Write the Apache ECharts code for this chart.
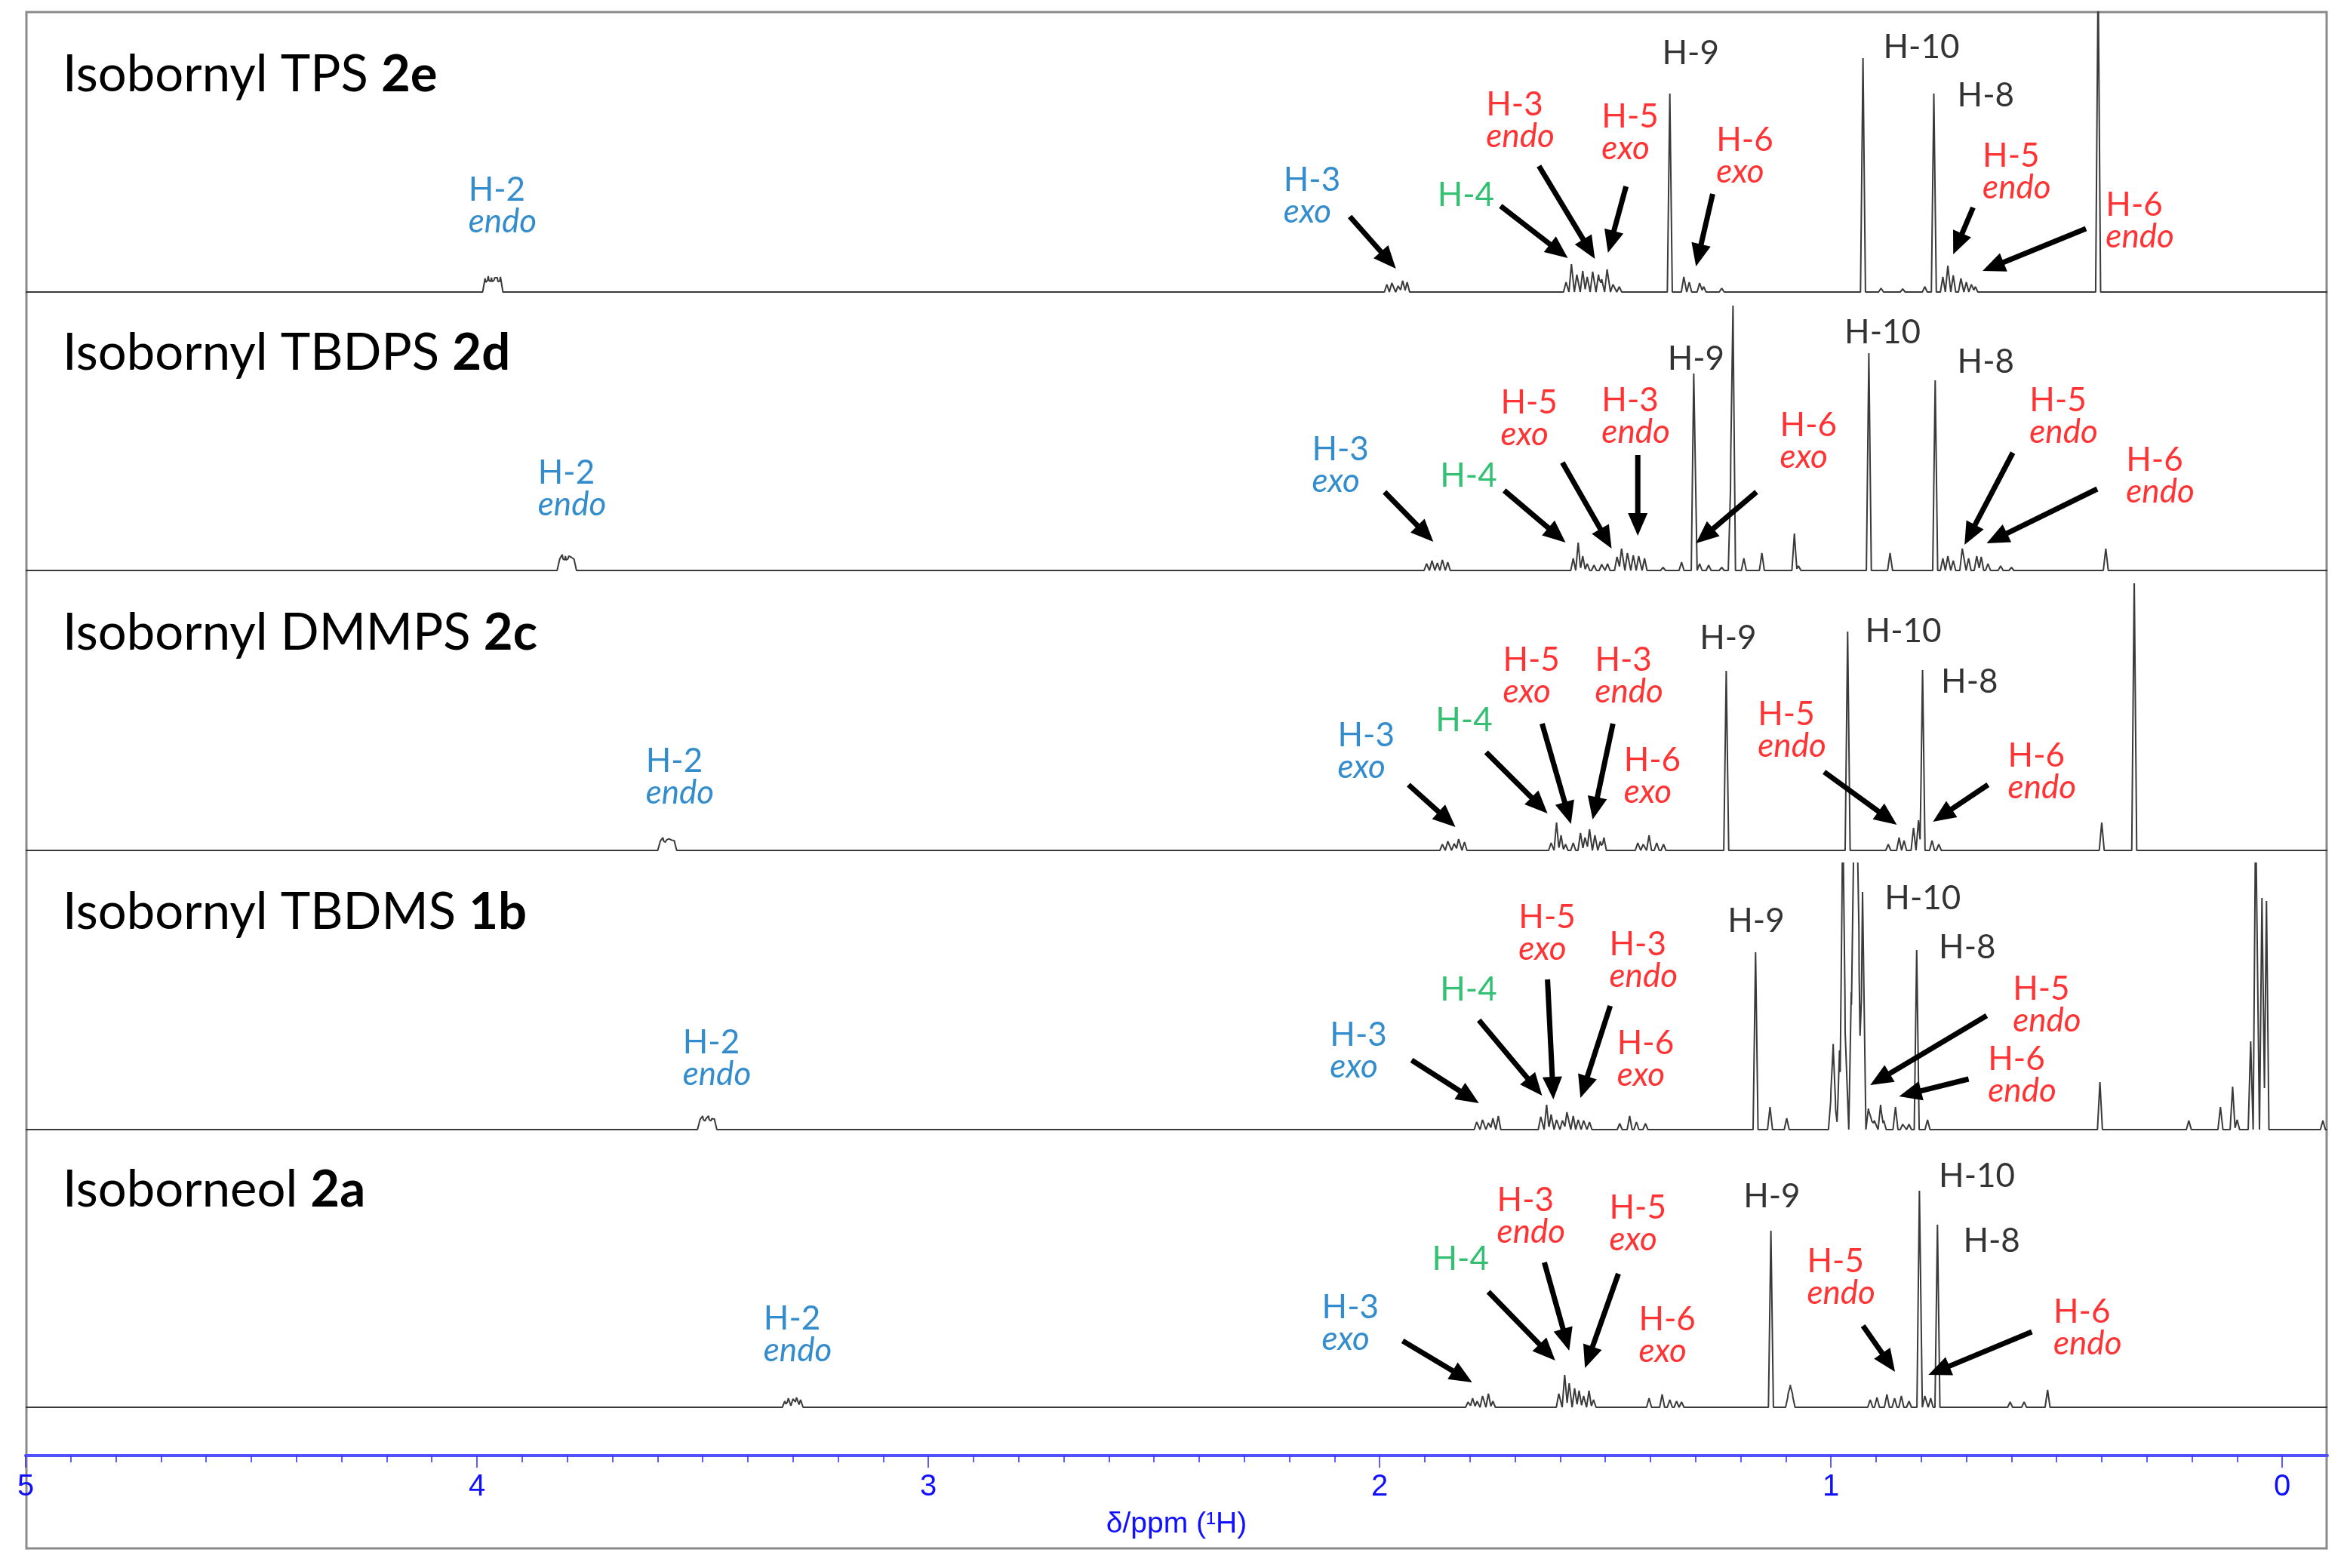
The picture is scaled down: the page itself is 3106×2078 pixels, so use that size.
<!DOCTYPE html>
<html><head><meta charset="utf-8">
<script src="https://cdn.jsdelivr.net/npm/echarts@6/dist/echarts.min.js"></script>
<style>html,body{margin:0;padding:0;background:#fff}#c{width:3106px;height:2078px}</style>
</head><body><div id="c"></div>
<script>
// ---------- data (chemical shift ppm, intensity) ----------
const compoundNames = ['Isobornyl TPS ', 'Isobornyl TBDPS ', 'Isobornyl DMMPS ', 'Isobornyl TBDMS ', 'Isoborneol '];
const compoundCodes = ['2e', '2d', '2c', '1b', '2a'];

const peaks_2e = [
  [3.982,18],[3.975,21],[3.968,19],[3.961,21],[3.955,19],[3.948,20],
  [1.984,10],[1.973,12],[1.959,8],[1.949,15],[1.939,13],
  [1.587,13],[1.575,37],[1.563,23],[1.550,28],[1.540,20],[1.528,27],[1.515,23],[1.508,17],[1.496,30],[1.483,10],[1.469,7],
  [1.357,263],
  [1.326,20],[1.314,13],[1.291,12],[1.282,7],[1.242,5],
  [0.929,310],
  [0.889,5],[0.841,4],[0.792,7],
  [0.772,263],
  [0.752,20],[0.741,35],[0.729,22],[0.712,18],[0.700,13],[0.689,10],[0.680,7],
  [0.408,420]
];
const peaks_2d = [
  [3.817,17],[3.811,21],[3.804,19],[3.797,21],[3.791,19],[3.785,15],
  [1.896,9],[1.884,13],[1.872,10],[1.861,14],[1.849,11],
  [1.571,16],[1.560,37],[1.550,19],[1.540,9],[1.525,7],[1.508,8],[1.495,9],[1.474,18],[1.464,29],[1.451,23],[1.438,20],[1.426,19],[1.413,16],
  [1.372,4],[1.331,11],
  [1.304,261],
  [1.291,9],[1.271,7],[1.242,4],
  [1.222,120],[1.217,340],
  [1.193,16],[1.153,23],
  [1.081,49],[1.072,6],
  [0.916,288],
  [0.869,23],
  [0.769,252],
  [0.752,16],[0.741,19],[0.729,13],[0.709,29],[0.695,16],[0.677,19],[0.667,18],[0.652,9],[0.624,6],[0.600,4],
  [0.391,29]
];
const peaks_2c = [
  [3.594,14],[3.588,17],[3.581,15],[3.575,17],[3.569,15],[3.563,13],
  [1.861,8],[1.849,12],[1.835,9],[1.825,15],[1.812,11],
  [1.620,10],[1.608,37],[1.598,20],[1.588,8],[1.571,10],[1.555,23],[1.545,17],[1.535,28],[1.523,20],[1.511,12],[1.503,17],
  [1.428,10],[1.416,8],[1.403,20],[1.386,10],[1.371,8],
  [1.232,238],
  [0.963,290],
  [0.873,8],[0.849,17],[0.838,13],[0.817,30],[0.806,40],
  [0.797,239],
  [0.776,13],[0.761,8],
  [0.400,37],
  [0.328,360]
];
const peaks_1b = [
  [3.506,15],[3.500,18],[3.493,16],[3.487,18],[3.480,16],[3.474,14],
  [1.785,10],[1.772,13],[1.759,9],[1.749,15],[1.737,18],
  [1.643,17],[1.630,33],[1.620,20],[1.608,13],[1.595,12],[1.585,23],[1.571,18],[1.560,13],[1.548,12],[1.535,10],
  [1.468,8],[1.446,18],[1.431,10],[1.411,8],
  [1.167,235],
  [1.135,30],[1.098,15],
  [1.000,42],[0.995,107],[0.990,28],[0.981,105],[0.974,420],[0.969,142],[0.955,182],[0.949,420],[0.943,420],[0.938,228],[0.930,315],
  [0.917,28],[0.911,15],[0.904,12],[0.890,33],[0.883,12],[0.857,30],[0.841,7],[0.827,7],
  [0.810,238],
  [0.786,13],
  [0.404,63],
  [0.207,12],[0.137,30],[0.110,57],[0.100,13],[0.070,117],[0.059,420],[0.045,307],[0.035,303],[-0.090,12]
];
const peaks_2a = [
  [3.318,8],[3.310,12],[3.300,11],[3.292,13],[3.283,10],
  [1.804,7],[1.794,12],[1.784,8],[1.772,15],[1.759,18],[1.749,8],
  [1.603,18],[1.590,43],[1.580,32],[1.568,25],[1.558,22],[1.548,15],[1.536,22],[1.526,10],
  [1.403,12],[1.374,17],[1.357,10],[1.342,8],[1.331,7],
  [1.133,234],
  [1.095,15],[1.090,27],[1.085,15],
  [0.913,10],[0.898,13],[0.876,17],[0.859,12],[0.844,15],[0.827,8],
  [0.804,287],
  [0.792,15],[0.779,12],
  [0.764,242],
  [0.603,7],[0.572,7],[0.520,23]
];

// annotation labels: [ppm (left edge), height (middle), line 1, line 2, colour]
const labels_2e = [
  [4.019,114,'H-2','endo','blue'],[2.213,127,'H-3','exo','blue'],[1.872,128,'H-4','','green'],
  [1.764,227,'H-3','endo','red'],[1.508,211,'H-5','exo','red'],[1.254,180,'H-6','exo','red'],
  [1.374,316,'H-9','','black'],[0.884,324,'H-10','','black'],[0.720,260,'H-8','','black'],
  [0.664,159,'H-5','endo','red'],[0.391,94,'H-6','endo','red']
];
const labels_2d = [
  [3.865,108,'H-2','endo','blue'],[2.150,139,'H-3','exo','blue'],[1.866,125,'H-4','','green'],
  [1.732,201,'H-5','exo','red'],[1.508,204,'H-3','endo','red'],[1.113,171,'H-6','exo','red'],
  [1.362,280,'H-9','','black'],[0.970,315,'H-10','','black'],[0.720,276,'H-8','','black'],
  [0.560,204,'H-5','endo','red'],[0.346,125,'H-6','endo','red']
];
const labels_2c = [
  [3.626,97,'H-2','endo','blue'],[2.093,131,'H-3','exo','blue'],[1.876,172,'H-4','','green'],
  [1.727,231,'H-5','exo','red'],[1.523,231,'H-3','endo','red'],[1.459,98,'H-6','exo','red'],
  [1.291,281,'H-9','','black'],[0.924,290,'H-10','','black'],[0.756,223,'H-8','','black'],
  [1.162,159,'H-5','endo','red'],[0.608,104,'H-6','endo','red']
];
const labels_1b = [
  [3.544,94,'H-2','endo','blue'],[2.110,104,'H-3','exo','blue'],[1.866,185,'H-4','','green'],
  [1.692,260,'H-5','exo','red'],[1.491,224,'H-3','endo','red'],[1.474,93,'H-6','exo','red'],
  [1.229,276,'H-9','','black'],[0.881,306,'H-10','','black'],[0.761,241,'H-8','','black'],
  [0.597,165,'H-5','endo','red'],[0.652,72,'H-6','endo','red']
];
const labels_2a = [
  [3.365,96,'H-2','endo','blue'],[2.128,111,'H-3','exo','blue'],[1.884,196,'H-4','','green'],
  [1.740,253,'H-3','endo','red'],[1.491,243,'H-5','exo','red'],[1.426,95,'H-6','exo','red'],
  [1.194,279,'H-9','','black'],[0.761,306,'H-10','','black'],[0.707,220,'H-8','','black'],
  [1.053,172,'H-5','endo','red'],[0.507,105,'H-6','endo','red']
];

// arrows: [from ppm, from height, to ppm, to height]
const arrows_2e = [[2.066,100,1.964,31],[1.732,114,1.583,45],[1.647,167,1.523,44],[1.454,140,1.494,52],[1.262,130,1.299,34],[0.685,112,0.729,50],[0.435,84,0.664,28]];
const arrows_2d = [[1.989,104,1.881,38],[1.724,106,1.588,37],[1.595,143,1.486,29],[1.428,153,1.428,46],[1.165,104,1.299,36],[0.597,156,0.704,34],[0.410,108,0.655,36]];
const arrows_2c = [[1.936,87,1.832,31],[1.764,130,1.628,49],[1.640,168,1.576,35],[1.483,168,1.528,41],[1.015,104,0.854,34],[0.652,87,0.774,38]];
const arrows_1b = [[1.929,92,1.780,35],[1.780,145,1.640,45],[1.628,199,1.615,40],[1.489,164,1.555,42],[0.655,151,0.913,59],[0.695,67,0.849,44]];
const arrows_2a = [[1.949,88,1.795,33],[1.759,153,1.611,62],[1.635,192,1.580,75],[1.471,177,1.545,52],[0.929,108,0.858,47],[0.555,100,0.784,43]];

const majorTicks = [0, 1, 2, 3, 4, 5];
const axisMin = -0.1, axisMax = 5;

// ---------- layout ----------
const panelPeaks = [peaks_2e, peaks_2d, peaks_2c, peaks_1b, peaks_2a];
const panelLabels = [labels_2e, labels_2d, labels_2c, labels_1b, labels_2a];
const panelArrows = [arrows_2e, arrows_2d, arrows_2c, arrows_1b, arrows_2a];
const panelBase = [387, 756, 1127, 1497, 1865];
const panelTop = [16, 405, 774, 1144, 1514];
const GL = 34, GR = 22;
const HALF = 0.0055;
const FONT = 'Lato, "Open Sans", sans-serif';
const COLORS = {blue:'#0070C0', red:'#FF0000', green:'#00B050', black:'#000000'};

const minorTicks = [];
for (let i = 1; i < 50; i++) if (i % 10) minorTicks.push(i / 10);

function spectrum(peaks) {
  const xs = [axisMin, axisMax];
  peaks.forEach(p => { xs.push(p[0] - HALF, p[0], p[0] + HALF); });
  xs.sort((a, b) => a - b);
  return xs.filter(x => x >= axisMin && x <= axisMax).map(x => {
    let y = 0;
    peaks.forEach(p => { const d = Math.abs(x - p[0]); if (d < HALF) y += p[1] * (1 - d / HALF); });
    return [x, y];
  });
}

const rich = {};
Object.keys(COLORS).forEach(k => {
  rich[k + 'N'] = {color: COLORS[k], fontSize: 44, lineHeight: 42, fontFamily: FONT};
  rich[k + 'I'] = {color: COLORS[k], fontSize: 44, lineHeight: 42, fontFamily: FONT, fontStyle: 'italic'};
});

const grids = [], xAxes = [], yAxes = [], series = [], titles = [];
for (let i = 0; i < 5; i++) {
  const h = panelBase[i] - panelTop[i];
  grids.push({left: GL, right: GR, top: panelTop[i], height: h});
  xAxes.push({type: 'value', gridIndex: i, min: axisMin, max: axisMax, inverse: true, show: false});
  yAxes.push({type: 'value', gridIndex: i, min: 0, max: h, show: false});
  series.push({
    type: 'line', xAxisIndex: i, yAxisIndex: i, data: spectrum(panelPeaks[i]),
    showSymbol: false, symbol: 'none', animation: false, silent: true,
    lineStyle: {color: '#3a3a3a', width: 2}, z: 2
  });
  series.push({
    type: 'scatter', xAxisIndex: i, yAxisIndex: i, symbolSize: 0, animation: false, silent: true,
    data: panelLabels[i].map(l => ({
      value: [l[0], l[1]],
      label: {
        show: true, position: [0, 0], align: 'left', verticalAlign: 'middle',
        formatter: l[3] ? `{${l[4]}N|${l[2]}}\n{${l[4]}I|${l[3]}}` : `{${l[4]}N|${l[2]}}`,
        rich: rich
      }
    })), z: 5
  });
  series.push({
    type: 'custom', xAxisIndex: i, yAxisIndex: i, animation: false, silent: true,
    data: panelArrows[i], encode: {x: [0, 2], y: [1, 3]}, z: 6,
    renderItem: (params, api) => {
      const p1 = api.coord([api.value(0), api.value(1)]);
      const p2 = api.coord([api.value(2), api.value(3)]);
      const dx = p2[0] - p1[0], dy = p2[1] - p1[1];
      const L = Math.hypot(dx, dy); const ux = dx / L, uy = dy / L;
      const HL = 30, HW = 13;
      const bx = p2[0] - ux * HL, by = p2[1] - uy * HL;
      return {type: 'group', children: [
        {type: 'line', shape: {x1: p1[0], y1: p1[1], x2: bx + ux * 3, y2: by + uy * 3}, style: {stroke: '#000', lineWidth: 7}},
        {type: 'polygon', shape: {points: [[p2[0], p2[1]], [bx - uy * HW, by + ux * HW], [bx + uy * HW, by - ux * HW]]}, style: {fill: '#000'}}
      ]};
    }
  });
  titles.push({
    text: `{n|${compoundNames[i]}}{b|${compoundCodes[i]}}`,
    left: 83, top: panelBase[i] - 312 - 12, padding: 0,
    textStyle: {fontWeight: 'normal', rich: {
      n: {fontSize: 67, lineHeight: 72, fontFamily: FONT, color: '#000', fontWeight: 'normal'},
      b: {fontSize: 67, lineHeight: 72, fontFamily: FONT, color: '#000', fontWeight: 'bold'}
    }}
  });
}
// axis grid
grids.push({left: GL, right: GR, top: 1900, height: 29});
yAxes.push({type: 'value', gridIndex: 5, show: false, min: 0, max: 1});
const axisBlue = '#2a2aff';
xAxes.push({
  type: 'value', gridIndex: 5, min: axisMin, max: axisMax, inverse: true, position: 'bottom',
  axisLine: {show: true, lineStyle: {color: '#5050ff', width: 4}},
  axisTick: {show: true, customValues: majorTicks, length: 16, lineStyle: {color: axisBlue, width: 1.5}},
  axisLabel: {show: true, customValues: majorTicks, margin: 22, fontSize: 40, color: '#1010ff', fontFamily: '"Liberation Sans", Arial, sans-serif'},
  splitLine: {show: false},
  name: 'δ/ppm (¹H)', nameLocation: 'middle', nameGap: 72,
  nameTextStyle: {fontSize: 39, color: '#1010ff', fontFamily: '"Liberation Sans", Arial, sans-serif'}
});
xAxes.push({
  type: 'value', gridIndex: 5, min: axisMin, max: axisMax, inverse: true, position: 'bottom',
  axisLine: {show: false},
  axisTick: {show: true, customValues: minorTicks, length: 9, lineStyle: {color: axisBlue, width: 1.5}},
  axisLabel: {show: false}, splitLine: {show: false}
});

const chart = echarts.init(document.getElementById('c'), null, {renderer: 'canvas'});
chart.setOption({
  backgroundColor: '#ffffff',
  animation: false,
  title: titles,
  grid: grids, xAxis: xAxes, yAxis: yAxes, series: series,
  graphic: [{
    type: 'rect', silent: true, z: 0,
    shape: {x: 35, y: 16, width: 3048, height: 2036},
    style: {fill: 'none', stroke: '#8a8a8a', lineWidth: 3}
  }]
});
</script></body></html>
